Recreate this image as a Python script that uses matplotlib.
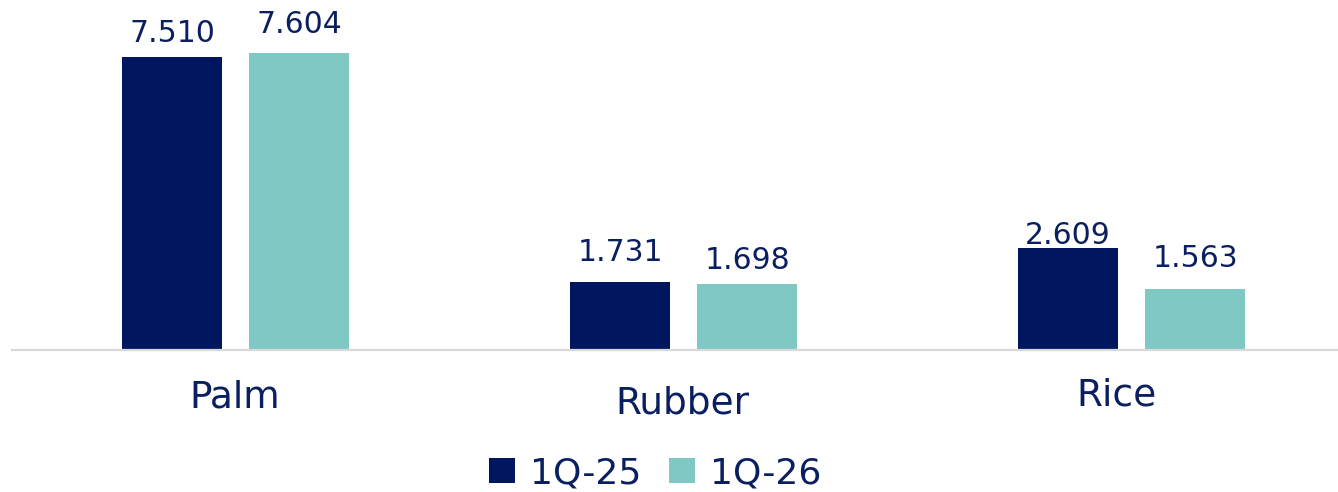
import matplotlib
matplotlib.use("Agg")
import matplotlib.pyplot as plt
import numpy as np

categories = ["Palm", "Rubber", "Rice"]
series_names = ["1Q-25", "1Q-26"]
values_1q25 = [7.510, 1.731, 2.609]
values_1q26 = [7.604, 1.698, 1.563]
value_labels_1q25 = ["7.510", "1.731", "2.609"]
value_labels_1q26 = ["7.604", "1.698", "1.563"]

NAVY = "#001760"
TEAL = "#7FC8C4"
TEXT = "#0A1F5F"

plt.rcParams['font.family'] = ['DejaVu Sans']

W, H = 1338, 492
fig = plt.figure(figsize=(W / 100, H / 100), dpi=100)
# axes placement in pixels
left_px, right_px = 11.5, 1355.5
base_px = 350
ymax = 8.0
px_per_unit = 39.0
top_px = base_px - ymax * px_per_unit
ax = fig.add_axes([left_px / W, (H - base_px) / H, (right_px - left_px) / W, (base_px - top_px) / H])

x = np.arange(len(categories))
bw = 100 / 448
off = 63.5 / 448
b1 = ax.bar(x - off, values_1q25, width=bw, color=NAVY, label=series_names[0])
b2 = ax.bar(x + off, values_1q26, width=bw, color=TEAL, label=series_names[1])

ax.set_xlim(-0.5, 2.5)
ax.set_ylim(0, ymax)
ax.set_yticks([])
ax.set_xticks([])
for s in ["top", "right", "left"]:
    ax.spines[s].set_visible(False)
ax.spines["bottom"].set_color("#D9D9D9")
ax.spines["bottom"].set_linewidth(1.6)

# value labels (pixel gaps above bar tops)
gaps1 = [15, 21, 4]
gaps2 = [20, 15, 22]
for i in range(len(categories)):
    ax.annotate(value_labels_1q25[i], xy=(x[i] - off, values_1q25[i]), xytext=(0, gaps1[i]),
                textcoords="offset pixels", ha="center", va="baseline", fontsize=21.5, color=TEXT)
    ax.annotate(value_labels_1q26[i], xy=(x[i] + off, values_1q26[i]), xytext=(0, gaps2[i]),
                textcoords="offset pixels", ha="center", va="baseline", fontsize=21.5, color=TEXT)

# category labels
cat_dy = [58, 63, 55]
cat_dx = [-1, -1, -15]
for i, c in enumerate(categories):
    ax.annotate(c, xy=(x[i], 0), xytext=(cat_dx[i], -cat_dy[i]), textcoords="offset pixels",
                ha="center", va="baseline", fontsize=27, color=TEXT, annotation_clip=False)

fig.legend(handles=[b1, b2], labels=series_names, loc="center",
           bbox_to_anchor=(655 / W, 1 - 473 / H), ncol=2, frameon=False,
           fontsize=26, handlelength=0.72, handleheight=0.72, handletextpad=0.42,
           columnspacing=0.75, labelcolor=TEXT)

fig.savefig("out.png", dpi=100)
